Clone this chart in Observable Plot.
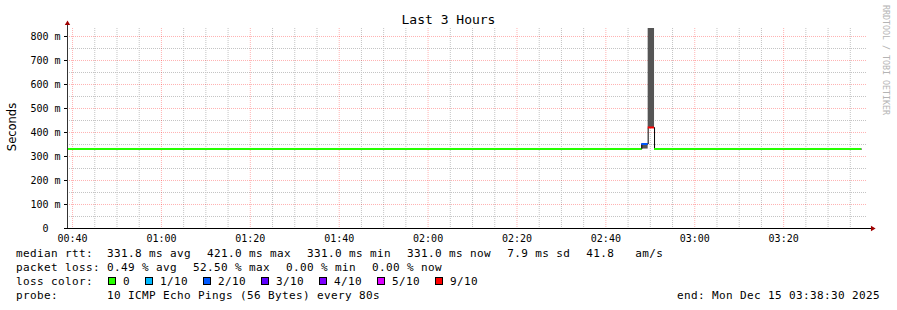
<!DOCTYPE html>
<html><head><meta charset="utf-8">
<script src="https://cdn.jsdelivr.net/npm/d3@7"></script>
<script src="https://cdn.jsdelivr.net/npm/@observablehq/plot@0.6"></script>
<style>
html,body{margin:0;padding:0;background:#fff;}
#wrap{position:relative;width:897px;height:310px;overflow:hidden;background:#fff;}
#chart{position:absolute;left:0;top:0;}
.mono{font-family:"DejaVu Sans Mono",monospace;color:#000;}
#title{position:absolute;left:0;top:11.5px;width:897px;text-align:center;font-size:13px;line-height:16px;}
#ylabel{position:absolute;left:11.5px;top:127px;transform:translate(-50%,-50%) rotate(-90deg);font-family:"DejaVu Sans",sans-serif;font-size:11.5px;white-space:nowrap;color:#000;}
#credit{position:absolute;left:886px;top:60px;transform:translate(-50%,-50%) rotate(90deg);font-size:8.3px;white-space:nowrap;color:#b4b4b4;}
.row{position:absolute;left:16px;font-size:11px;letter-spacing:0.38px;line-height:14px;white-space:pre;}
.lbl{display:inline-block;}
.item{display:inline-block;margin-right:16px;}
.box{display:inline-block;width:6px;height:6px;border:1px solid #000;margin-right:7px;vertical-align:baseline;}
.litem{display:inline-block;margin-right:15px;}
</style></head><body>
<div id="wrap">
  <div id="chart"></div>
</div>
<script>
// ---- data ----
const chartTitle = "Last 3 Hours";
const yAxisLabel = "Seconds";
const creditText = "RRDTOOL / TOBI OETIKER";
const dayStr = "2025-12-15";
const viewStartTime = "00:38:52";
const viewEndTime = "03:38:52";

const lossLevels = ["0", "1/10", "2/10", "3/10", "4/10", "5/10", "9/10"];
const lossColors = ["#26ff00", "#00b8ff", "#0059ff", "#5e00ff", "#7e00ff", "#dd00ff", "#ff0000"];

// median rtt steps (ms) with loss level and smoke extent
const segStart = ["00:38:52", "02:48:05", "02:49:31", "02:50:57"];
const segEnd   = ["02:48:05", "02:49:31", "02:50:57", "03:37:30"];
const segMedianMs = [331, 352, 421, 331];
const segLoss = ["0", "2/10", "9/10", "0"];
const segSmokeLowMs  = [331, 331, 421, 331];
const segSmokeHighMs = [331, 352, 900, 331];

const yTickValues = [0, 100, 200, 300, 400, 500, 600, 700, 800];
const yTickLabels = ["0\u00a0\u00a0", "100 m", "200 m", "300 m", "400 m", "500 m", "600 m", "700 m", "800 m"];
const yTopMs = 833.33;

const medianStats = ["331.8 ms avg", "421.0 ms max", "331.0 ms min", "331.0 ms now", "7.9 ms sd", "41.8   am/s"];
const lossStats = ["0.49 % avg", "52.50 % max", "0.00 % min", "0.00 % now"];
const probeText = "10 ICMP Echo Pings (56 Bytes) every 80s";
const endText = "end: Mon Dec 15 03:38:30 2025";

// ---- build ----
const parse = d3.utcParse("%Y-%m-%d %H:%M:%S");
const t = s => parse(dayStr + " " + s);
const xDomain = [t(viewStartTime), t(viewEndTime)];
const colorOf = l => lossColors[lossLevels.indexOf(l)];

const segs = segStart.map((s, i) => ({
  start: t(s), end: t(segEnd[i]), median: segMedianMs[i], loss: segLoss[i],
  lo: segSmokeLowMs[i], hi: segSmokeHighMs[i]
}));
const medianPath = segs.flatMap(d => [{time: d.start, ms: d.median}, {time: d.end, ms: d.median}]);

const majorTimes = d3.utcMinute.every(20).range(xDomain[0], xDomain[1]);
const minorTimes = d3.utcMinute.every(5).range(xDomain[0], xDomain[1]).filter(d => d.getUTCMinutes() % 20 !== 0);
const majorY = d3.range(100, yTopMs, 100);
const minorY = d3.range(50, yTopMs, 100);

const plot = Plot.plot({
  width: 897, height: 240,
  marginLeft: 67, marginRight: 30, marginTop: 28, marginBottom: 12,
  x: {type: "utc", domain: xDomain},
  y: {domain: [0, yTopMs]},
  style: {fontFamily: "'DejaVu Sans Mono', monospace", fontSize: "10px", background: "white", color: "black", overflow: "visible"},
  marks: [
    Plot.ruleX(minorTimes, {stroke: "#c4c4c4", strokeDasharray: "1,1"}),
    Plot.ruleY(minorY, {stroke: "#c4c4c4", strokeDasharray: "1,1"}),
    Plot.ruleX(majorTimes, {stroke: "#ff0000", strokeOpacity: 0.3, strokeDasharray: "1,1"}),
    Plot.ruleY(majorY, {stroke: "#ff0000", strokeOpacity: 0.3, strokeDasharray: "1,1"}),
    Plot.rect(segs.filter(d => d.hi > d.lo), {x1: "start", x2: "end", y1: "lo", y2: "hi", fill: "#555555", clip: true}),
    Plot.line(medianPath, {x: "time", y: "ms", stroke: "#000", strokeWidth: 1}),
    Plot.ruleY(segs, {x1: "start", x2: "end", y: "median", stroke: d => colorOf(d.loss), strokeWidth: 2}),
    Plot.ruleY([0], {stroke: "#000", insetRight: -4}),
    Plot.ruleX([xDomain[0]], {stroke: "#333", insetTop: -5}),
    Plot.dot([{x: xDomain[1], y: 0}], {x: "x", y: "y", symbol: "triangle", r: 2, fill: "#a00000", stroke: null, rotate: 90, dx: 5}),
    Plot.dot([{x: xDomain[0], y: yTopMs}], {x: "x", y: "y", symbol: "triangle", r: 2, fill: "#a00000", stroke: null, dy: -5}),
    Plot.axisX({ticks: majorTimes, tickFormat: d3.utcFormat("%H:%M"), tickSize: 0, tickPadding: 6, label: null}),
    Plot.axisY({ticks: yTickValues, tickFormat: d => yTickLabels[yTickValues.indexOf(d)], tickSize: 3, tickPadding: 4, label: null})
  ]
});
document.getElementById("chart").appendChild(plot);

const wrap = document.getElementById("wrap");
function add(tag, cls, id, text) {
  const el = document.createElement(tag);
  if (cls) el.className = cls;
  if (id) el.id = id;
  if (text != null) el.textContent = text;
  return el;
}
wrap.appendChild(add("div", "mono", "title", chartTitle));
wrap.appendChild(add("div", null, "ylabel", yAxisLabel));
wrap.appendChild(add("div", "mono", "credit", creditText));

function row(top, label, labelWidth) {
  const r = add("div", "row mono");
  r.style.top = top + "px";
  const l = add("span", "lbl", null, label);
  l.style.width = labelWidth + "px";
  r.appendChild(l);
  wrap.appendChild(r);
  return r;
}
const r1 = row(246.7, "median rtt:", 91);
medianStats.forEach(s => r1.appendChild(add("span", "item", null, s)));
const r2 = row(260.7, "packet loss:", 91);
lossStats.forEach(s => r2.appendChild(add("span", "item", null, s)));
const r3 = row(274.7, "loss color:", 92);
lossLevels.forEach((l, i) => {
  const it = add("span", "litem");
  const b = add("span", "box");
  b.style.background = lossColors[i];
  it.appendChild(b);
  it.appendChild(document.createTextNode(l));
  r3.appendChild(it);
});
const r4 = row(288.7, "probe:", 91);
r4.appendChild(add("span", "item", null, probeText));
const e = add("div", "row mono", null, endText);
e.style.top = "288.7px";
e.style.left = "auto";
e.style.right = "17px";
wrap.appendChild(e);
</script>
</body></html>
